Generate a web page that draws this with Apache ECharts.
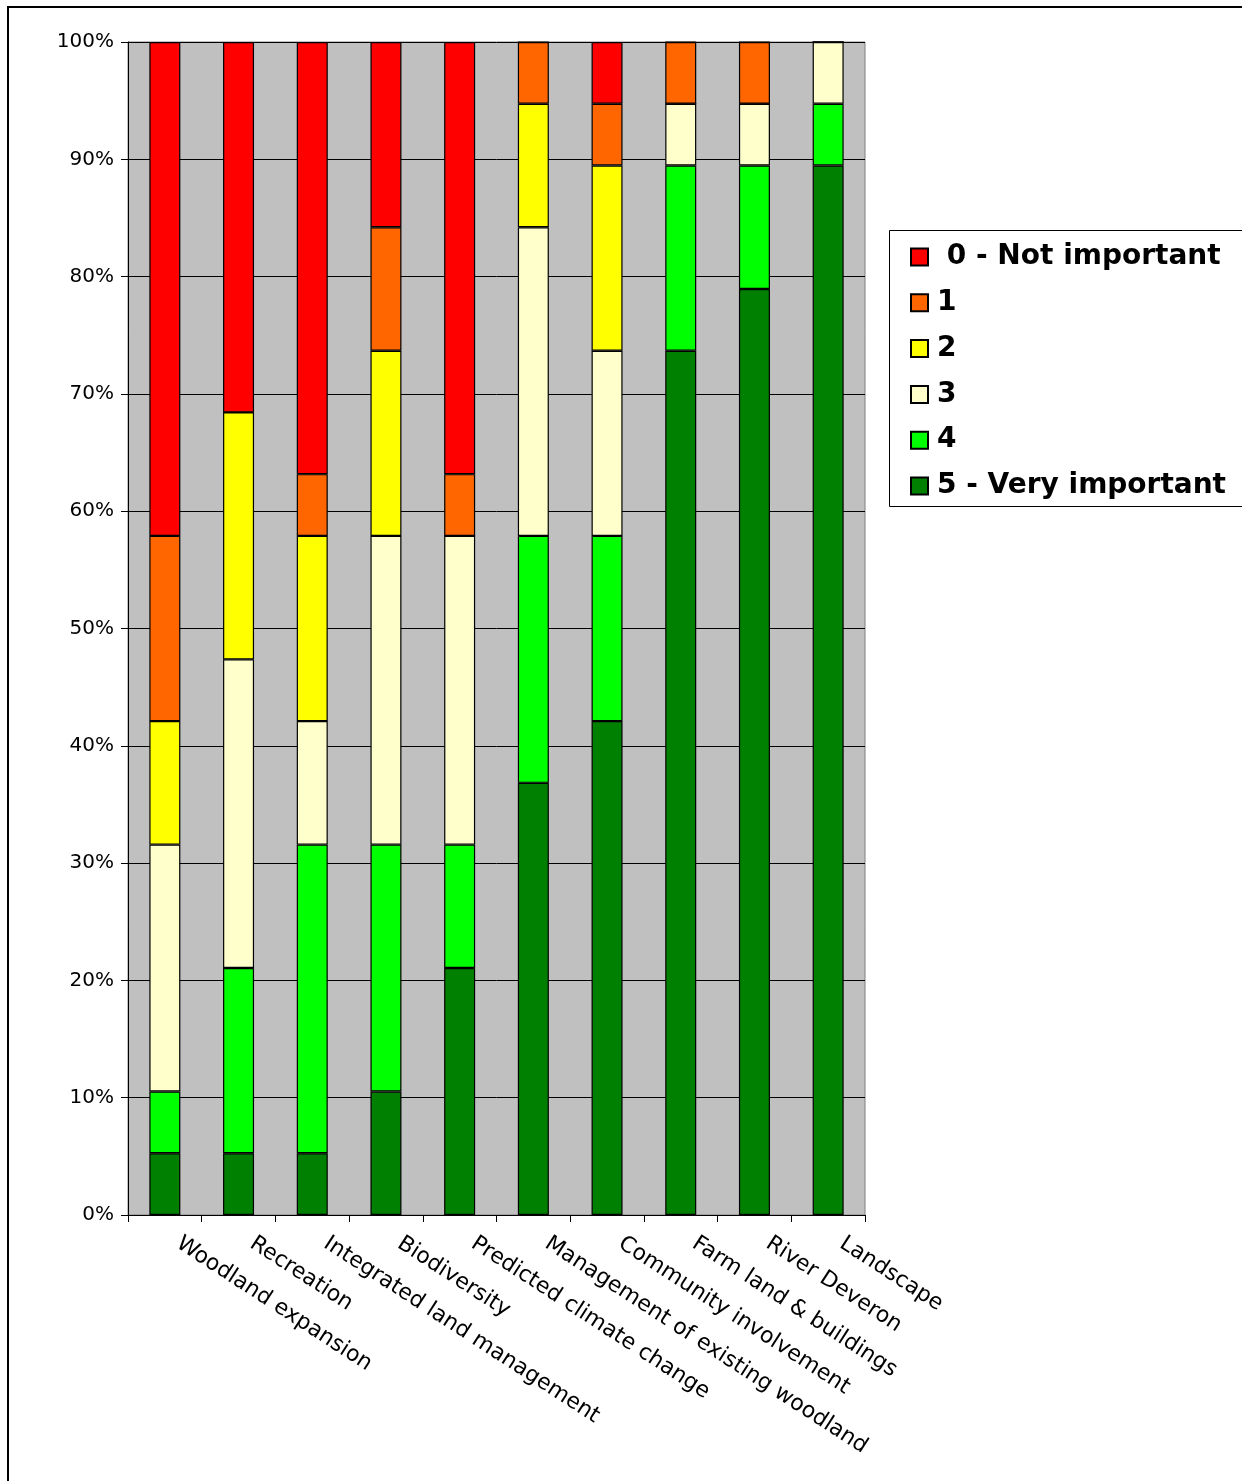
<!DOCTYPE html>
<html>
<head>
<meta charset="utf-8">
<script src="https://cdn.jsdelivr.net/npm/echarts@6/dist/echarts.min.js"></script>
<style>
  html, body { margin: 0; padding: 0; background: #fff; }
  #chart { width: 1242px; height: 1481px; }
</style>
</head>
<body>
<div id="chart"></div>
<script>
// categories along the x axis
const categories = [
  "Woodland expansion",
  "Recreation",
  "Integrated land management",
  "Biodiversity",
  "Predicted climate change",
  "Management of existing woodland",
  "Community involvement",
  "Farm land & buildings",
  "River Deveron",
  "Landscape"
];

// number of responses per score (19 respondents per category)
const score5 = [1, 1, 1, 2, 4, 7, 8, 14, 15, 17];
const score4 = [1, 3, 5, 4, 2, 4, 3, 3, 2, 1];
const score3 = [4, 5, 2, 5, 5, 5, 3, 1, 1, 1];
const score2 = [2, 4, 3, 3, 0, 2, 3, 0, 0, 0];
const score1 = [3, 0, 1, 2, 1, 1, 1, 1, 1, 0];
const score0 = [8, 6, 7, 3, 7, 0, 1, 0, 0, 0];

const seriesNames = ["5 - Very important", "4", "3", "2", "1", "0 - Not important"];
const seriesColors = ["#008000", "#00FF00", "#FFFFCC", "#FFFF00", "#FF6600", "#FF0000"];
const seriesData = [score5, score4, score3, score2, score1, score0];

// 100% stacked: share of responses in each category
const totals = categories.map((c, i) => seriesData.reduce((s, arr) => s + arr[i], 0));

const series = seriesData.map((arr, k) => ({
  name: seriesNames[k],
  type: "bar",
  stack: "all",
  barWidth: 31,
  data: arr.map((v, i) => (v / totals[i]) * 100),
  itemStyle: { color: seriesColors[k], borderColor: "#000", borderWidth: 1.2 },
  emphasis: { disabled: true }
}));

const chart = echarts.init(document.getElementById("chart"));
chart.setOption({
  animation: false,
  textStyle: { fontFamily: "DejaVu Sans" },
  graphic: [
    {
      type: "rect",
      shape: { x: 8, y: 7, width: 1300, height: 1500 },
      style: { fill: "none", stroke: "#000", lineWidth: 2 },
      z: -1
    },
    {
      type: "rect",
      shape: { x: 889.5, y: 230.5, width: 400, height: 276 },
      style: { fill: "#fff", stroke: "#000", lineWidth: 1 },
      z: 0
    }
  ],
  legend: {
    orient: "vertical",
    left: 905,
    top: 238,
    itemGap: 17.8,
    itemWidth: 17,
    itemHeight: 17,
    icon: "rect",
    z: 5,
    data: ["0 - Not important", "1", "2", "3", "4", "5 - Very important"],
    formatter: name => (name === "0 - Not important" ? " " + name : name),
    textStyle: {
      fontSize: 28,
      lineHeight: 28,
      fontWeight: "bold",
      color: "#000",
      fontFamily: "DejaVu Sans",
      padding: [0, 0, 0, 4]
    }
  },
  grid: {
    left: 128,
    top: 42,
    right: 377,
    bottom: 266,
    show: true,
    backgroundColor: "#C0C0C0",
    borderColor: "#808080",
    borderWidth: 1
  },
  xAxis: {
    type: "category",
    data: categories,
    axisLine: { lineStyle: { color: "#000", width: 1 } },
    axisTick: { show: true, length: 7, lineStyle: { color: "#000" } },
    axisLabel: {
      rotate: -33,
      interval: 0,
      margin: 18,
      fontSize: 22,
      color: "#000",
      padding: [0, 0, 0, 16]
    }
  },
  yAxis: {
    type: "value",
    min: 0,
    max: 100,
    interval: 10,
    axisLine: { show: true, lineStyle: { color: "#000", width: 1 } },
    axisTick: { show: true, length: 7, lineStyle: { color: "#000" } },
    splitLine: { lineStyle: { color: "#000", width: 1 } },
    axisLabel: { formatter: "{value}%", fontSize: 20, color: "#000", margin: 14 }
  },
  series: series
});
</script>
</body>
</html>
